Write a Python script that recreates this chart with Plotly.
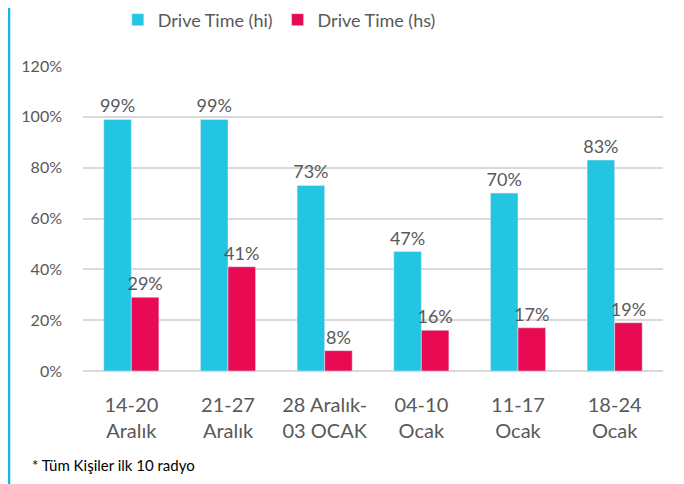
import plotly.graph_objects as go

categories = ["14-20<br>Aralık", "21-27<br>Aralık", "28 Aralık-<br>03 OCAK", "04-10<br>Ocak", "11-17<br>Ocak", "18-24<br>Ocak"]
series_hi = [99, 99, 73, 47, 70, 83]
series_hs = [29, 41, 8, 16, 17, 19]
name_hi = "Drive Time (hi)"
name_hs = "Drive Time (hs)"
footnote = "* Tüm Kişiler ilk 10 radyo"

BLUE = "#24C5E3"
RED = "#E80A52"
GRAY = "#595959"
FONT = "Lato, Open Sans, sans-serif"

fig = go.Figure()
fig.add_trace(go.Bar(x=categories, y=series_hi, name=name_hi, marker_color=BLUE,
                     text=[f"{v}%" for v in series_hi], textposition="outside",
                     constraintext="none",
                     textfont=dict(size=18, color=GRAY, family=FONT), cliponaxis=False))
fig.add_trace(go.Bar(x=categories, y=series_hs, name=name_hs, marker_color=RED,
                     text=[f"{v}%" for v in series_hs], textposition="outside",
                     constraintext="none",
                     textfont=dict(size=18, color=GRAY, family=FONT), cliponaxis=False))

fig.update_layout(
    width=684, height=484,
    margin=dict(l=75, r=29, t=58, b=121, autoexpand=False),
    paper_bgcolor="white", plot_bgcolor="white",
    barmode="group", bargap=0.43, bargroupgap=0,
    font=dict(family=FONT, color=GRAY),
    showlegend=True,
    legend=dict(orientation="h", x=0.06, xanchor="left", y=1.151, yanchor="middle",
                font=dict(size=18, color=GRAY, family=FONT), itemwidth=30,
                traceorder="normal"),
    xaxis=dict(tickfont=dict(size=20, color=GRAY, family=FONT), showgrid=False,
               showline=False, ticks="", ticklabelstandoff=20),
    yaxis=dict(range=[0, 120], dtick=20, ticksuffix="%", showgrid=True,
               gridcolor="#D9D9D9", gridwidth=1.5, zeroline=True, zerolinecolor="#D9D9D9",
               zerolinewidth=1.5, tickfont=dict(size=16, color=GRAY, family=FONT),
               ticklabelstandoff=20),
    shapes=[
        dict(type="line", xref="paper", yref="paper", x0=-0.1276, x1=-0.1276, y0=-0.5, y1=1.3,
             line=dict(color="#13B5EA", width=2.5)),
    ],
    annotations=[
        dict(text=footnote, xref="paper", yref="paper", x=-0.091, y=-0.308,
             xanchor="left", yanchor="middle", showarrow=False,
             font=dict(size=15, color="#000000", family=FONT)),
    ],
)

fig.write_html("out.html")
